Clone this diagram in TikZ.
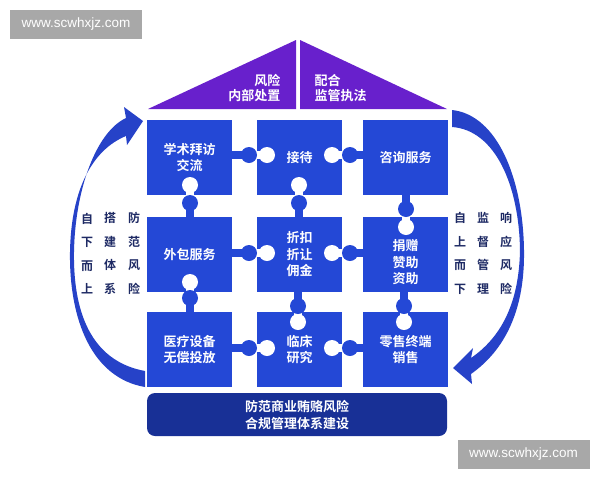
\documentclass[tikz,border=0pt]{standalone}
\usepackage{fontspec}
\setmainfont{Noto Sans CJK SC}[BoldFont={Noto Sans CJK SC Bold}]
\newfontfamily\urlfont{Liberation Sans}
\definecolor{piececol}{RGB}{36,72,214}
\definecolor{roofcol}{RGB}{104,32,204}
\definecolor{barcol}{RGB}{24,48,150}
\definecolor{arrowcol}{RGB}{38,66,200}
\definecolor{sidecol}{RGB}{30,42,100}
\definecolor{markcol}{RGB}{168,168,168}

\begin{document}
\begin{tikzpicture}[x=1pt, y=-1pt,
  piece/.style={rectangle, fill=piececol, minimum width=85pt, minimum height=75pt, inner sep=0pt},
  txt/.style={text=white, font=\fontsize{13}{16.5}\selectfont\bfseries, align=center},
  side/.style={text=sidecol, font=\fontsize{12}{23.5}\selectfont\bfseries, align=center},
  wmark/.style={fill=markcol, text=white, minimum width=132pt, minimum height=29pt, inner sep=0pt, font=\urlfont\fontsize{13.5}{14}\selectfont}]
\useasboundingbox (0,0) rectangle (600,480);

% Watermarks
\node[wmark] (wm1) at (76,24.5) {www.scwhxjz.com};
\node[wmark] (wm2) at (523.5,454.5) {www.scwhxjz.com};

% Roof
\fill[roofcol] (148,109) -- (296,40) -- (296,109) -- cycle;
\fill[roofcol] (300,40) -- (447,109) -- (300,109) -- cycle;
\node[txt, anchor=east, align=right, font=\fontsize{13}{15.5}\selectfont\bfseries] (roofl) at (284,88) {风险\\内部处置};
\node[txt, anchor=west, align=left, font=\fontsize{13}{15.5}\selectfont\bfseries] (roofr) at (311,88) {配合\\监管执法};

% Puzzle pieces
\node[piece] (p11) at (189.5,157.5) {};
\node[piece] (p12) at (299.5,157.5) {};
\node[piece] (p13) at (405.5,157.5) {};
\node[piece] (p21) at (189.5,254.5) {};
\node[piece] (p22) at (299.5,254.5) {};
\node[piece] (p23) at (405.5,254.5) {};
\node[piece] (p31) at (189.5,349.5) {};
\node[piece] (p32) at (299.5,349.5) {};
\node[piece] (p33) at (405.5,349.5) {};

% Holes
\foreach \a/\c/\y in {257/267/155, 342/332/155, 257/267/253, 342/332/253, 257/267/348, 342/332/348}
  {\fill[white] (\a,\y-4) rectangle (\c,\y+4); \fill[white] (\c,\y) circle (8pt);}
\foreach \x/\a/\c in {190/195/185, 299/195/185, 406/217/227, 190/292/282, 298/312/322, 404/312/322}
  {\fill[white] (\x-4,\a) rectangle (\x+4,\c); \fill[white] (\x,\c) circle (8pt);}

% Knobs
\foreach \a/\c/\y in {232/249/155, 363/350/155, 232/249/253, 363/350/253, 232/249/348, 363/350/348}
  {\fill[piececol] (\a,\y-4) rectangle (\c,\y+4); \fill[piececol] (\c,\y) circle (8pt);}
\foreach \x/\a/\c in {190/217/203, 299/217/203, 406/195/209, 190/312/298, 298/292/306, 404/292/306}
  {\fill[piececol] (\x-4,\a) rectangle (\x+4,\c); \fill[piececol] (\x,\c) circle (8pt);}

% Labels
\node[txt] (t11) at (p11) {学术拜访\\交流};
\node[txt] (t12) at (p12) {接待};
\node[txt] (t13) at (p13) {咨询服务};
\node[txt] (t21) at (p21) {外包服务};
\node[txt] (t22) at (p22) {折扣\\折让\\佣金};
\node[txt] (t23) at ([yshift=-8pt]p23.center) {捐赠\\赞助\\资助};
\node[txt] (t31) at (p31) {医疗设备\\无偿投放};
\node[txt] (t32) at (p32) {临床\\研究};
\node[txt] (t33) at (p33) {零售终端\\销售};

% Base
\node[txt, fill=barcol, rounded corners=8pt, minimum width=300pt, minimum height=43pt, font=\fontsize{13}{17}\selectfont\bfseries] (base) at (297,414.5) {防范商业贿赂风险\\合规管理体系建设};

% Side arrows
\fill[arrowcol] (145,387) .. controls (92,378) and (69,320) .. (70,252)
  .. controls (71,190) and (92,150) .. (126,136)
  -- (127,145) -- (143,121) -- (124,107) -- (126,118)
  .. controls (96,132) and (75,190) .. (74,252)
  .. controls (73,320) and (96,362) .. (145,371) -- cycle;
\fill[arrowcol] (452,110) .. controls (498,115) and (523,180) .. (524,250)
  .. controls (525,310) and (505,350) .. (471,374)
  -- (472,384) -- (453,368) -- (473,348) -- (471,358)
  .. controls (500,338) and (519,305) .. (520,250)
  .. controls (519,185) and (495,130) .. (452,127) -- cycle;

% Side texts
\node[side] (l1) at (87,253.5) {自\\下\\而\\上};
\node[side] (l2) at (110,253.5) {搭\\建\\体\\系};
\node[side] (l3) at (134,253.5) {防\\范\\风\\险};
\node[side] (r1) at (460,253.5) {自\\上\\而\\下};
\node[side] (r2) at (483,253.5) {监\\督\\管\\理};
\node[side] (r3) at (506,253.5) {响\\应\\风\\险};
\end{tikzpicture}
\end{document}
